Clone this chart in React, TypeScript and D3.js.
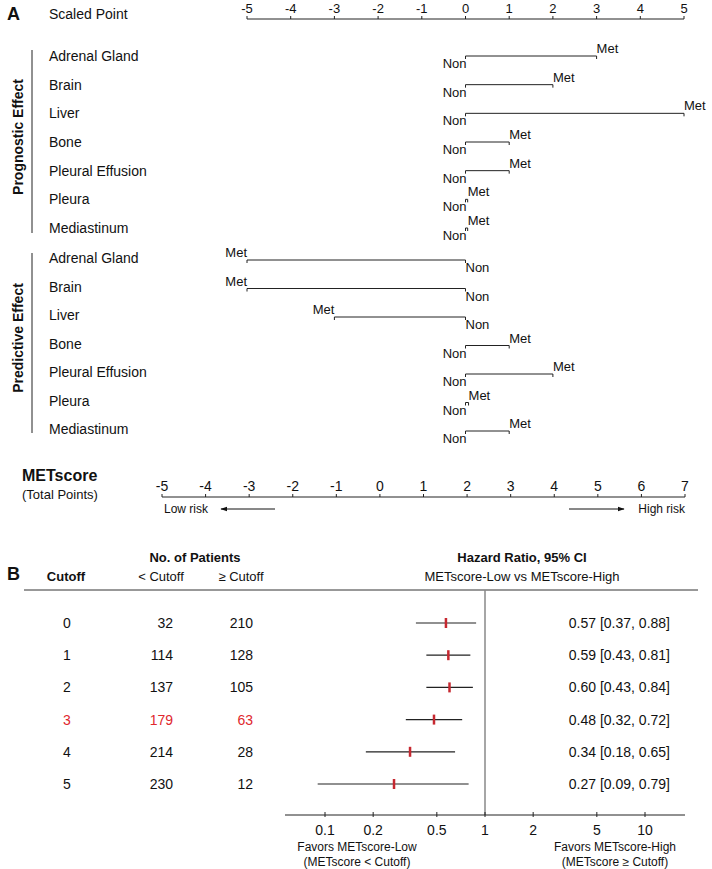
import React from "react";
import * as d3 from "d3";

// ---------- Data ----------
const sites = ["Adrenal Gland", "Brain", "Liver", "Bone", "Pleural Effusion", "Pleura", "Mediastinum"];
const prognosticPoints = [3, 2, 5, 1, 1, 0.05, 0.05];
const predictivePoints = [-5, -5, -3, 1, 2, 0.07, 1];
const scaledTicks = [-5, -4, -3, -2, -1, 0, 1, 2, 3, 4, 5];
const metscoreTicks = [-5, -4, -3, -2, -1, 0, 1, 2, 3, 4, 5, 6, 7];

const cutoffs = [0, 1, 2, 3, 4, 5];
const nBelow = [32, 114, 137, 179, 214, 230];
const nAbove = [210, 128, 105, 63, 28, 12];
const hrValues = [0.57, 0.59, 0.6, 0.48, 0.34, 0.27];
const ciLow = [0.37, 0.43, 0.43, 0.32, 0.18, 0.09];
const ciHigh = [0.88, 0.81, 0.84, 0.72, 0.65, 0.79];
const highlightCutoff = 3;
const hrTicks = [0.1, 0.2, 0.5, 1, 2, 5, 10];

const FONT = "'Liberation Sans', Arial, Helvetica, sans-serif";
const INK = "#222";
const RED = "#e0282e";

export default function App() {
  const sx = d3.scaleLinear().domain([-5, 5]).range([247, 684]);
  const mx = d3.scaleLinear().domain([-5, 7]).range([162, 685]);
  const progY = d3.scaleLinear().domain([0, 6]).range([56, 228]);
  const predY = d3.scaleLinear().domain([0, 6]).range([260, 431]);
  const hx = d3.scaleLog().domain([Math.pow(10, -1.25), Math.pow(10, 1.25)]).range([285, 685]);
  const rowY = d3.scaleLinear().domain([0, 5]).range([623, 784]);

  const nomoRow = (v: number, y: number, key: string) => {
    const x0 = sx(0);
    const x1 = sx(v);
    const pos = v >= 0;
    return (
      <g key={key}>
        <line x1={x0} x2={x1} y1={y} y2={y} stroke={INK} strokeWidth={1} />
        <line x1={x0} x2={x0} y1={y} y2={y + 3} stroke={INK} strokeWidth={1} />
        <line x1={x1} x2={x1} y1={y} y2={y + 3} stroke={INK} strokeWidth={1} />
        <text x={pos ? x0 + 1 : x0} y={y + 12} textAnchor={pos ? "end" : "start"} fontSize={13}>
          Non
        </text>
        <text x={x1} y={y - 3} textAnchor={pos ? "start" : "end"} fontSize={13}>
          Met
        </text>
      </g>
    );
  };

  return (
    <svg
      width={712}
      height={869}
      style={{ position: "absolute", left: 0, top: 0, background: "#fff" }}
      fontFamily={FONT}
      fill="#111"
    >
      {/* Panel A */}
      <text x={7} y={20} fontSize={18} fontWeight="bold">A</text>
      <text x={49} y={19} fontSize={14}>Scaled Point</text>
      <line x1={sx(-5)} x2={sx(5)} y1={19} y2={19} stroke={INK} />
      {scaledTicks.map((t) => (
        <g key={"st" + t}>
          <line x1={sx(t)} x2={sx(t)} y1={19} y2={16} stroke={INK} />
          <text x={sx(t)} y={13} textAnchor="middle" fontSize={13}>{t}</text>
        </g>
      ))}

      {/* group bars and labels */}
      <line x1={32} x2={32} y1={50} y2={233} stroke={INK} />
      <text transform="translate(23,137) rotate(-90)" textAnchor="middle" fontSize={14} fontWeight="bold">
        Prognostic Effect
      </text>
      <line x1={32} x2={32} y1={253} y2={433} stroke={INK} />
      <text transform="translate(23,338) rotate(-90)" textAnchor="middle" fontSize={14} fontWeight="bold">
        Predictive Effect
      </text>

      {sites.map((s, i) => (
        <text key={"pl" + i} x={49} y={progY(i) + 5} fontSize={14}>{s}</text>
      ))}
      {sites.map((s, i) => (
        <text key={"dl" + i} x={49} y={predY(i) + 3} fontSize={14}>{s}</text>
      ))}
      {prognosticPoints.map((v, i) => nomoRow(v, progY(i), "pr" + i))}
      {predictivePoints.map((v, i) => nomoRow(v, predY(i), "pd" + i))}

      {/* METscore axis */}
      <text x={22} y={481} fontSize={16} fontWeight="bold">METscore</text>
      <text x={22} y={499} fontSize={13}>(Total Points)</text>
      <line x1={mx(-5)} x2={mx(7)} y1={497} y2={497} stroke={INK} />
      {metscoreTicks.map((t) => (
        <g key={"mt" + t}>
          <line x1={mx(t)} x2={mx(t)} y1={497} y2={494} stroke={INK} />
          <text x={mx(t)} y={491} textAnchor="middle" fontSize={14}>{t}</text>
        </g>
      ))}
      <defs>
        <marker id="arr" viewBox="0 0 10 10" refX={9} refY={5} markerWidth={7} markerHeight={7} orient="auto-start-reverse">
          <path d="M0,1.5 L10,5 L0,8.5 z" fill="#111" />
        </marker>
      </defs>
      <text x={164} y={513} fontSize={12}>Low risk</text>
      <line x1={275} x2={221} y1={509} y2={509} stroke="#111" markerEnd="url(#arr)" />
      <line x1={569} x2={624} y1={509} y2={509} stroke="#111" markerEnd="url(#arr)" />
      <text x={685} y={513} fontSize={12} textAnchor="end">High risk</text>

      {/* Panel B */}
      <text x={7} y={580} fontSize={18} fontWeight="bold">B</text>
      <text x={195} y={562} fontSize={13} fontWeight="bold" textAnchor="middle">No. of Patients</text>
      <text x={66} y={581} fontSize={13} fontWeight="bold" textAnchor="middle">Cutoff</text>
      <text x={161} y={581} fontSize={13} textAnchor="middle">&lt; Cutoff</text>
      <text x={241} y={581} fontSize={13} textAnchor="middle">≥ Cutoff</text>
      <text x={522} y={562} fontSize={13} fontWeight="bold" textAnchor="middle">Hazard Ratio, 95% CI</text>
      <text x={522} y={581} fontSize={13} textAnchor="middle">METscore-Low vs METscore-High</text>
      <line x1={24} x2={698} y1={590} y2={590} stroke="#333" strokeWidth={1} />
      <line x1={hx(1)} x2={hx(1)} y1={590} y2={815} stroke="#888" strokeWidth={1.5} />

      {cutoffs.map((c, i) => {
        const y = rowY(i);
        const col = c === highlightCutoff ? RED : "#111";
        return (
          <g key={"row" + i}>
            <text x={67} y={y + 5} fontSize={14} textAnchor="middle" fill={col}>{c}</text>
            <text x={173} y={y + 5} fontSize={14} textAnchor="end" fill={col}>{nBelow[i]}</text>
            <text x={253} y={y + 5} fontSize={14} textAnchor="end" fill={col}>{nAbove[i]}</text>
            <line x1={hx(ciLow[i])} x2={hx(ciHigh[i])} y1={y} y2={y} stroke={INK} strokeWidth={1.2} />
            <line x1={hx(hrValues[i])} x2={hx(hrValues[i])} y1={y - 5} y2={y + 5} stroke="#c62830" strokeWidth={2.5} />
            <text x={670} y={y + 5} fontSize={14} textAnchor="end">
              {`${hrValues[i].toFixed(2)} [${ciLow[i].toFixed(2)}, ${ciHigh[i].toFixed(2)}]`}
            </text>
          </g>
        );
      })}

      {/* HR axis */}
      <line x1={285} x2={685} y1={815} y2={815} stroke={INK} />
      {hrTicks.map((t) => (
        <g key={"ht" + t}>
          <line x1={hx(t)} x2={hx(t)} y1={812} y2={817} stroke={INK} />
          <text x={hx(t)} y={835} textAnchor="middle" fontSize={14}>{t}</text>
        </g>
      ))}
      <text x={357} y={851} fontSize={12} textAnchor="middle">Favors METscore-Low</text>
      <text x={357} y={866} fontSize={12} textAnchor="middle">(METscore &lt; Cutoff)</text>
      <text x={615} y={851} fontSize={12} textAnchor="middle">Favors METscore-High</text>
      <text x={615} y={866} fontSize={12} textAnchor="middle">(METscore ≥ Cutoff)</text>
    </svg>
  );
}
